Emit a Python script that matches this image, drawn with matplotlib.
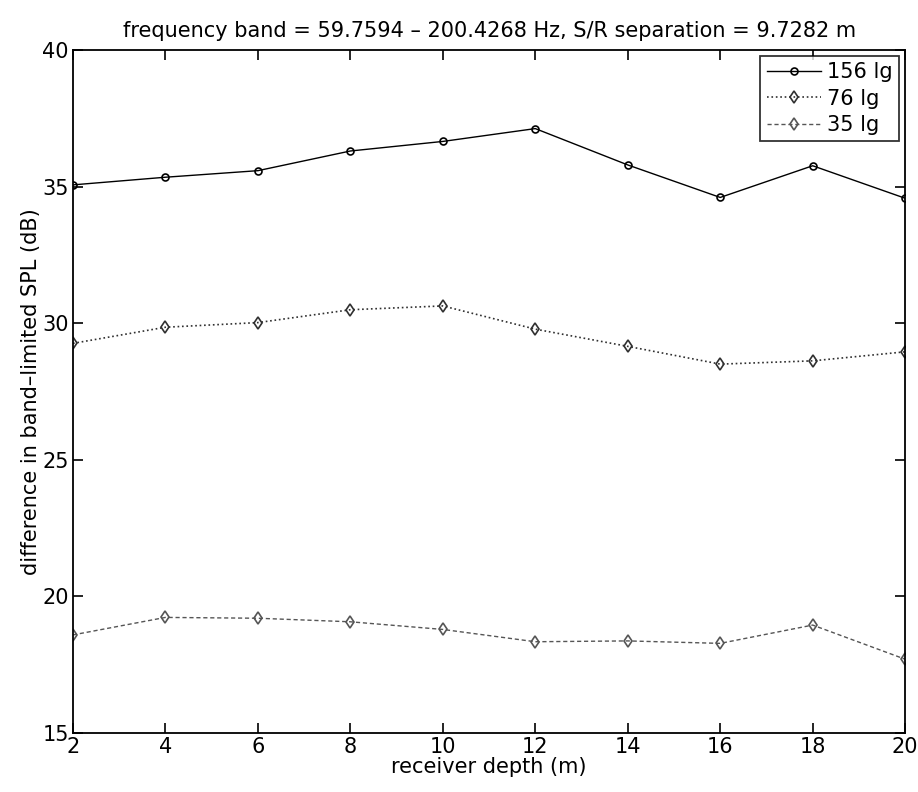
import numpy as np
import matplotlib
matplotlib.use('Agg')
import matplotlib.pyplot as plt

plt.rcParams['font.family'] = ['DejaVu Sans']

# receiver depths (m)
depth = [2, 4, 6, 8, 10, 12, 14, 16, 18, 20]

# difference in band-limited SPL (dB) for each charge size
spl_156 = [35.06, 35.34, 35.58, 36.30, 36.65, 37.12, 35.79, 34.60, 35.76, 34.57]
spl_76 = [29.26, 29.85, 30.02, 30.49, 30.63, 29.78, 29.15, 28.50, 28.62, 28.95]
spl_35 = [18.59, 19.23, 19.20, 19.07, 18.79, 18.34, 18.37, 18.28, 18.95, 17.70]

labels = ['156 lg', '76 lg', '35 lg']
xticks = [2, 4, 6, 8, 10, 12, 14, 16, 18, 20]
yticks = [15, 20, 25, 30, 35, 40]

fs = 15

fig = plt.figure(figsize=(9.18, 7.92), dpi=100)
ax = fig.add_axes([0.0795, 0.0745, 0.9065, 0.8625])

ax.plot(depth, spl_156, '-o', color='black', lw=1.0, ms=5, mfc='none', mew=1.2, label=labels[0])
ax.plot(depth, spl_76, ':d', color='#303030', lw=1.2, ms=6, mfc='none', mew=1.2, label=labels[1])
ax.plot(depth, spl_35, '--d', color='#555555', lw=1.0, ms=6, mfc='none', mew=1.2,
        dashes=(3, 2), label=labels[2])

ax.set_xlim(2, 20)
ax.set_ylim(15, 40)
ax.set_xticks(xticks)
ax.set_yticks(yticks)
ax.tick_params(direction='in', length=7, width=1.2, top=True, right=True, labelsize=fs, pad=3)
for s in ax.spines.values():
    s.set_linewidth(1.3)

ax.set_title('frequency band = 59.7594 \u2013 200.4268 Hz, S/R separation = 9.7282 m',
             fontsize=fs, pad=9)
ax.set_xlabel('receiver depth (m)', fontsize=fs, labelpad=0)
ax.set_ylabel('difference in band\u2013limited SPL (dB)', fontsize=fs, labelpad=1)

leg = ax.legend(loc='upper right', fontsize=fs, frameon=True, fancybox=False,
                edgecolor='black', borderaxespad=0.3, handlelength=2.6,
                handletextpad=0.3, labelspacing=0.3, borderpad=0.3)
leg.get_frame().set_linewidth(1.3)

fig.savefig('out.png', dpi=100)
